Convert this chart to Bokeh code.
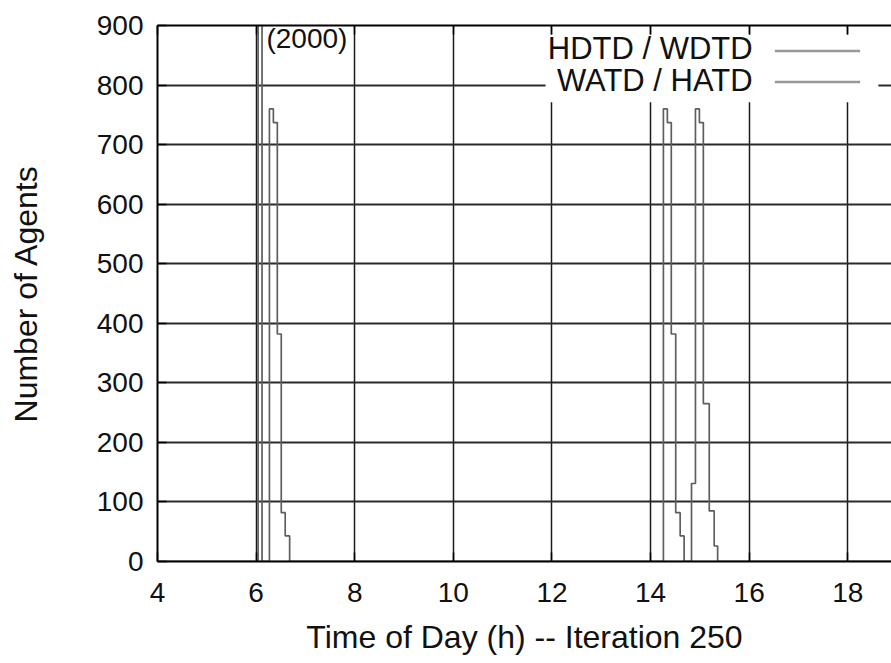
from bokeh.plotting import figure
from bokeh.models import (LinearAxis, FixedTicker, Range1d, Label, BoxAnnotation,
                          ColumnDataSource)
from bokeh.embed import file_html
from bokeh.resources import INLINE

# ---------------- data ----------------
x_ticks = [4, 6, 8, 10, 12, 14, 16, 18]
y_ticks = [0, 100, 200, 300, 400, 500, 600, 700, 800, 900]

# HDTD / WDTD : step series (value holds from t[i] to t[i+1])
hdtd_wdtd_t = [4.0, 6.04, 6.12, 14.26, 14.34, 14.42, 14.51, 14.60, 14.68, 19.0]
hdtd_wdtd_n = [0, 2000, 0, 760, 737, 382, 82, 43, 0, 0]

# WATD / HATD : step series
watd_hatd_t = [4.0, 6.27, 6.35, 6.43, 6.51, 6.59, 6.68,
               14.83, 14.91, 14.99, 15.07, 15.19, 15.29, 15.36, 19.0]
watd_hatd_n = [0, 760, 737, 382, 82, 43, 0,
               131, 760, 737, 265, 85, 26, 0, 0]

series_names = ["HDTD / WDTD", "WATD / HATD"]
peak_note = "(2000)"

FONT = "Liberation Sans"

p = figure(width=891, height=663, output_backend="svg", toolbar_location=None,
           x_range=Range1d(4, 18.886), y_range=Range1d(0, 900),
           x_axis_label="Time of Day (h) -- Iteration 250",
           y_axis_label="Number of Agents",
           min_border_left=157, min_border_right=0,
           min_border_top=25, min_border_bottom=102)
p.outline_line_color = None
p.background_fill_color = "white"
p.border_fill_color = "white"

# grid
for g in (p.xgrid, p.ygrid):
    g.level = "image"
p.xgrid.ticker = FixedTicker(ticks=x_ticks)
p.ygrid.ticker = FixedTicker(ticks=y_ticks)
p.xgrid.grid_line_color = "#1a1a1a"
p.xgrid.grid_line_width = 1.5
p.ygrid.grid_line_color = "#2a2a2a"
p.ygrid.grid_line_width = 2

def style_axis(ax):
    ax.axis_line_color = "black"
    ax.axis_line_width = 2
    ax.major_tick_in = 9
    ax.major_tick_out = 0
    ax.major_tick_line_color = "black"
    ax.major_tick_line_width = 1.5
    ax.minor_tick_line_color = None
    ax.major_label_text_font = FONT
    ax.major_label_text_font_size = "28px"
    ax.major_label_text_color = "#111"
    ax.axis_label_text_font = FONT
    ax.axis_label_text_font_size = "32px"
    ax.axis_label_text_font_style = "normal"
    ax.axis_label_text_color = "#111"

xa = p.xaxis[0]
ya = p.yaxis[0]
xa.ticker = FixedTicker(ticks=x_ticks)
ya.ticker = FixedTicker(ticks=y_ticks)
style_axis(xa)
style_axis(ya)
xa.major_label_standoff = 21
xa.axis_label_standoff = 14
ya.major_label_standoff = 14
ya.axis_label_standoff = 50

top = LinearAxis(ticker=FixedTicker(ticks=x_ticks))
style_axis(top)
top.major_label_text_font_size = "0px"
top.major_label_text_color = None
top.major_label_standoff = 0
p.add_layout(top, "above")

# key box (opaque, hides the grid behind it)
p.add_layout(BoxAnnotation(left=11.87, right=18.62, bottom=771, top=885,
                           fill_color="white", fill_alpha=1.0,
                           line_color=None, level="underlay"))

# series
src1 = ColumnDataSource(dict(t=hdtd_wdtd_t, n=hdtd_wdtd_n))
src2 = ColumnDataSource(dict(t=watd_hatd_t, n=watd_hatd_n))
p.step("t", "n", source=src1, mode="after", line_color="#5e5e5e", line_width=1.7)
p.step("t", "n", source=src2, mode="after", line_color="#5e5e5e", line_width=1.7)

# key entries (text right-aligned, sample line on the right)
key_y = [861, 807]
for name, yy in zip(series_names, key_y):
    p.add_layout(Label(x=16.07, y=yy, text=name, text_align="right",
                       text_baseline="middle", text_font=FONT,
                       text_font_size="31px", text_color="#111"))
p.segment(x0=[16.52, 16.52], x1=[18.25, 18.25], y0=[857, 805], y1=[857, 805],
          line_color="#999999", line_width=2.5)

# annotation of clipped peak
p.add_layout(Label(x=6.21, y=878, text=peak_note, text_align="left",
                   text_baseline="middle", text_font=FONT,
                   text_font_size="28px", text_color="#111"))

open("out.html", "w").write(file_html(p, INLINE))
